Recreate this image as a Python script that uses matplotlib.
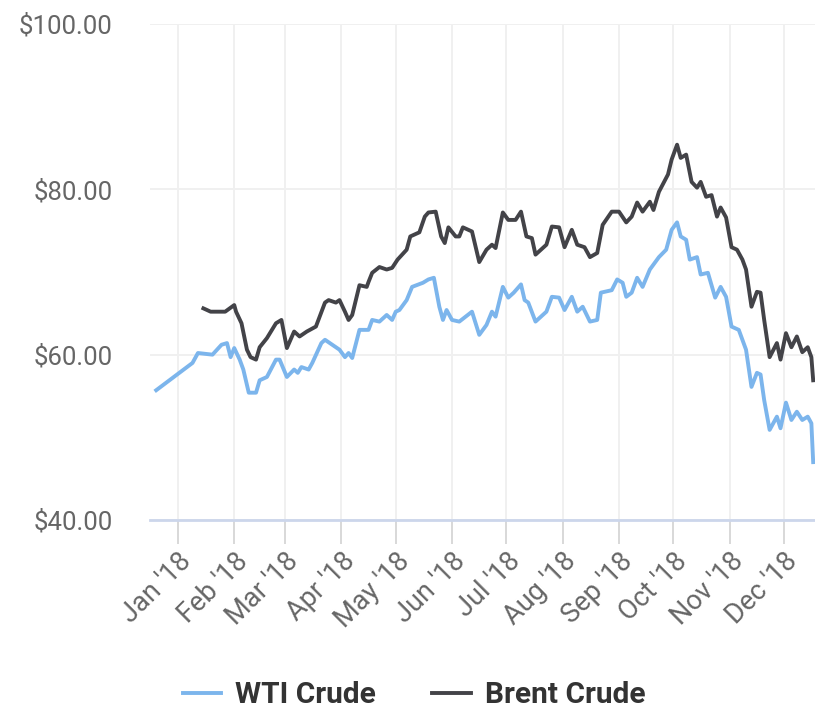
#!/usr/bin/env python3
"""WTI vs Brent crude prices, 2018 (Highcharts-style line chart)"""

import numpy as np
import pandas as pd
import matplotlib
matplotlib.use('Agg')
import matplotlib.pyplot as plt
import matplotlib.dates as mdates

plt.rcParams['font.family'] = ['Roboto', 'DejaVu Sans']

# ============================================================
# Data
# ============================================================
wti_dates = [
    '2017-12-20', '2018-01-09', '2018-01-12', '2018-01-20', '2018-01-25', '2018-01-28',
    '2018-01-30', '2018-02-01', '2018-02-04', '2018-02-06', '2018-02-09', '2018-02-13',
    '2018-02-15', '2018-02-19', '2018-02-24', '2018-02-26', '2018-03-02', '2018-03-06',
    '2018-03-08', '2018-03-10', '2018-03-14', '2018-03-16', '2018-03-21', '2018-03-23',
    '2018-03-31', '2018-04-03', '2018-04-05', '2018-04-07', '2018-04-11', '2018-04-16',
    '2018-04-18', '2018-04-22', '2018-04-26', '2018-04-29', '2018-05-01', '2018-05-03',
    '2018-05-07', '2018-05-10', '2018-05-16', '2018-05-19', '2018-05-22', '2018-05-25',
    '2018-05-27', '2018-05-29', '2018-06-01', '2018-06-05', '2018-06-12', '2018-06-16',
    '2018-06-20', '2018-06-23', '2018-06-25', '2018-06-29', '2018-07-02', '2018-07-05',
    '2018-07-09', '2018-07-11', '2018-07-13', '2018-07-17', '2018-07-23', '2018-07-26',
    '2018-07-30', '2018-08-02', '2018-08-06', '2018-08-09', '2018-08-12', '2018-08-16',
    '2018-08-20', '2018-08-22', '2018-08-28', '2018-08-31', '2018-09-03', '2018-09-05',
    '2018-09-08', '2018-09-11', '2018-09-14', '2018-09-18', '2018-09-19', '2018-09-23',
    '2018-09-27', '2018-09-30', '2018-10-03', '2018-10-05', '2018-10-08', '2018-10-10',
    '2018-10-14', '2018-10-16', '2018-10-20', '2018-10-24', '2018-10-27', '2018-10-30',
    '2018-11-02', '2018-11-06', '2018-11-10', '2018-11-13', '2018-11-16', '2018-11-18',
    '2018-11-20', '2018-11-23', '2018-11-27', '2018-11-29', '2018-12-02', '2018-12-05',
    '2018-12-08', '2018-12-11', '2018-12-14', '2018-12-16', '2018-12-17',
]
wti_prices = [
    55.7, 59.0, 60.2, 60.0, 61.2, 61.4,
    59.7, 60.8, 59.4, 58.2, 55.4, 55.4,
    56.9, 57.3, 59.4, 59.4, 57.3, 58.2,
    57.8, 58.5, 58.2, 59.0, 61.4, 61.8,
    60.6, 59.7, 60.2, 59.6, 63.0, 63.0,
    64.2, 64.0, 64.8, 64.2, 65.2, 65.4,
    66.6, 68.2, 68.7, 69.1, 69.3, 65.8,
    64.2, 65.4, 64.2, 64.0, 65.2, 62.4,
    63.6, 65.2, 64.6, 68.2, 66.9, 67.5,
    68.5, 66.6, 66.3, 64.0, 65.2, 67.0,
    66.9, 65.4, 67.0, 65.2, 65.8, 64.0,
    64.2, 67.5, 67.8, 69.1, 68.7, 67.0,
    67.5, 69.3, 68.2, 70.3, 70.6, 71.8,
    72.7, 75.1, 76.0, 74.3, 73.9, 71.5,
    71.8, 69.7, 69.9, 66.9, 68.2, 67.0,
    63.4, 63.0, 60.6, 56.1, 57.8, 57.6,
    54.5, 50.9, 52.5, 51.1, 54.2, 52.1,
    53.1, 52.1, 52.5, 51.7, 47.0,
]

brent_dates = [
    '2018-01-15', '2018-01-19', '2018-01-27', '2018-02-01', '2018-02-02', '2018-02-05',
    '2018-02-08', '2018-02-10', '2018-02-13', '2018-02-15', '2018-02-19', '2018-02-24',
    '2018-02-27', '2018-03-02', '2018-03-06', '2018-03-09', '2018-03-13', '2018-03-18',
    '2018-03-23', '2018-03-25', '2018-03-29', '2018-03-31', '2018-04-03', '2018-04-05',
    '2018-04-07', '2018-04-11', '2018-04-15', '2018-04-16', '2018-04-18', '2018-04-22',
    '2018-04-26', '2018-04-29', '2018-05-02', '2018-05-07', '2018-05-09', '2018-05-14',
    '2018-05-17', '2018-05-19', '2018-05-23', '2018-05-26', '2018-05-28', '2018-05-30',
    '2018-06-03', '2018-06-05', '2018-06-07', '2018-06-12', '2018-06-16', '2018-06-20',
    '2018-06-23', '2018-06-25', '2018-06-29', '2018-07-02', '2018-07-06', '2018-07-09',
    '2018-07-12', '2018-07-15', '2018-07-17', '2018-07-23', '2018-07-26', '2018-07-30',
    '2018-08-02', '2018-08-06', '2018-08-09', '2018-08-13', '2018-08-16', '2018-08-20',
    '2018-08-23', '2018-08-28', '2018-09-01', '2018-09-05', '2018-09-08', '2018-09-11',
    '2018-09-14', '2018-09-18', '2018-09-20', '2018-09-23', '2018-09-28', '2018-09-30',
    '2018-10-03', '2018-10-05', '2018-10-08', '2018-10-11', '2018-10-14', '2018-10-16',
    '2018-10-19', '2018-10-22', '2018-10-25', '2018-10-27', '2018-10-30', '2018-11-02',
    '2018-11-05', '2018-11-08', '2018-11-10', '2018-11-13', '2018-11-16', '2018-11-18',
    '2018-11-20', '2018-11-23', '2018-11-27', '2018-11-29', '2018-12-02', '2018-12-05',
    '2018-12-08', '2018-12-11', '2018-12-14', '2018-12-16', '2018-12-17',
]
brent_prices = [
    65.6, 65.2, 65.2, 66.0, 65.2, 63.8,
    60.6, 59.7, 59.4, 60.9, 62.0, 63.8,
    64.2, 60.8, 62.8, 62.2, 62.8, 63.4,
    66.3, 66.6, 66.3, 66.6, 65.2, 64.2,
    64.8, 68.4, 68.2, 68.8, 69.9, 70.6,
    70.3, 70.5, 71.5, 72.7, 74.3, 74.8,
    76.7, 77.2, 77.3, 74.3, 73.5, 75.4,
    74.3, 74.3, 75.4, 74.9, 71.2, 72.7,
    73.3, 72.9, 77.2, 76.3, 76.3, 77.3,
    74.3, 74.1, 72.1, 73.3, 75.5, 75.4,
    73.0, 75.1, 73.3, 73.0, 71.8, 72.3,
    75.7, 77.3, 77.3, 76.0, 76.7, 78.4,
    77.3, 78.5, 77.5, 79.7, 81.8, 83.6,
    85.4, 83.8, 84.2, 80.9, 80.2, 80.9,
    79.1, 79.3, 76.7, 77.8, 76.6, 73.0,
    72.7, 71.5, 70.3, 65.8, 67.6, 67.5,
    64.2, 59.7, 61.4, 59.4, 62.6, 60.9,
    62.2, 60.3, 60.9, 59.7, 56.9,
]

y_ticks = [40, 60, 80, 100]
series_names = ['WTI Crude', 'Brent Crude']
series_colors = ['#7cb5ec', '#434348']

# ============================================================
# Figure
# ============================================================
fig = plt.figure(figsize=(8.15, 7.08), dpi=100)
ax = fig.add_axes([150 / 815, 1 - 520 / 708, 665 / 815, 496 / 708])

ax.plot(pd.to_datetime(wti_dates), wti_prices, color=series_colors[0],
        linewidth=2.8, label=series_names[0], solid_joinstyle='round')
ax.plot(pd.to_datetime(brent_dates), brent_prices, color=series_colors[1],
        linewidth=2.8, label=series_names[1], solid_joinstyle='round')

ax.set_ylim(40, 100)
ax.set_xlim(pd.Timestamp('2017-12-16 14:00'), pd.Timestamp('2018-12-18'))

ax.set_yticks(y_ticks)
ax.set_yticklabels([f'${v:.2f}' for v in y_ticks])
ax.xaxis.set_major_locator(mdates.MonthLocator())
ax.xaxis.set_major_formatter(mdates.DateFormatter("%b '%y"))

# grid + axis styling
ax.grid(True, color='#f0f0f0', linewidth=1.4)
ax.set_axisbelow(True)
for side in ['top', 'right', 'left']:
    ax.spines[side].set_visible(False)
ax.spines['bottom'].set_color('#ccd6eb')
ax.spines['bottom'].set_linewidth(2)

ax.tick_params(axis='y', length=0, pad=27, labelsize=18.5, labelcolor='#666666')
ax.tick_params(axis='x', length=17, width=1.4, color='#d8d8d8', pad=3,
               labelsize=19.5, labelcolor='#666666')
for lbl in ax.get_xticklabels():
    lbl.set_rotation(45)
    lbl.set_ha('right')
    lbl.set_va('top')
    lbl.set_rotation_mode('anchor')

# legend at the bottom
fig.legend(loc='center', bbox_to_anchor=(414 / 815, 1 - 695 / 708), ncol=2,
           frameon=False, handlelength=1.3, handletextpad=0.45, columnspacing=1.9,
           prop={'size': 21.5, 'weight': 'bold'}, labelcolor='#333333')

fig.savefig('out.png', dpi=100, facecolor='white')
